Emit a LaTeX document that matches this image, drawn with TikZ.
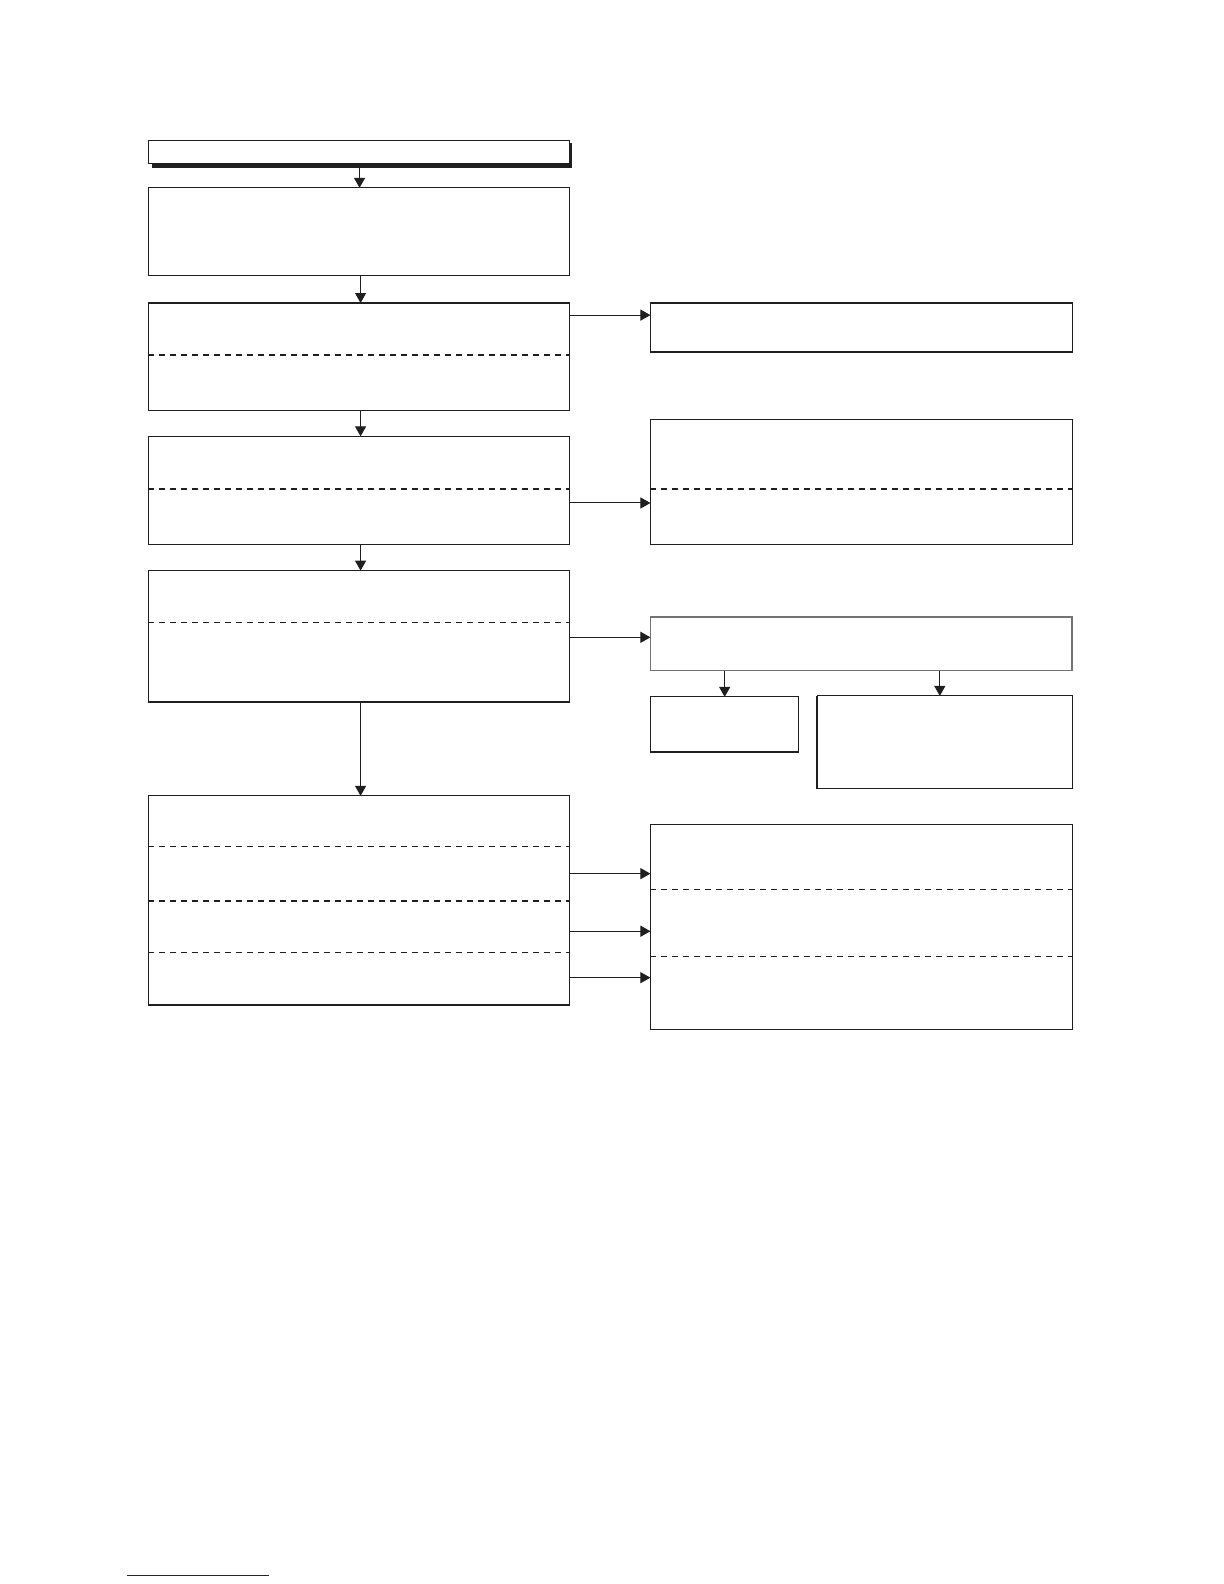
\documentclass[tikz,border=0pt]{standalone}
\usetikzlibrary{arrows.meta,fit}
\begin{document}
\begin{tikzpicture}[x=1.01bp,y=-1.01bp,
  box/.style={draw=black!88,line width=1.1bp,rectangle,inner sep=0pt,outer sep=0pt,fill=white},
  arr/.style={draw=black!88,line width=1bp,-{Triangle[length=10bp,width=11bp]}},
  thindash/.style={draw=black!88,line width=0.8bp,dash pattern=on 6bp off 5bp},
  thickdash/.style={draw=black!88,line width=1.8bp,dash pattern=on 6bp off 5bp}]
\useasboundingbox (0,0) rectangle (1211.88,1568.32);
% title box with shadow
\fill[black!88] (150,142) rectangle (566.5,166);
\node[box,fit={(147,139) (563.5,161.5)}] (t) {};
% left column
\node[box,fit={(147,186) (563.5,273)}] (b) {};
\node[box,fit={(147,300) (563.5,406)}] (c) {};
\node[box,fit={(147,432) (563.5,539)}] (d) {};
\node[box,fit={(147,565) (563.5,695)}] (e) {};
\node[box,fit={(147,788) (563.5,995)}] (f) {};
% right column
\node[box,fit={(644,300) (1061.5,348.5)}] (r1) {};
\node[box,fit={(644,415) (1061.5,539)}] (r2) {};
\node[box,draw=black!55,line width=1.5bp,fit={(644,611) (1061.5,664)}] (r3) {};
\node[box,fit={(644,690) (791,744.5)}] (r4) {};
\node[box,fit={(809,689) (1061.5,781)}] (r5) {};
\draw[draw=black!88,line width=1.6bp] (r5.north west) -- (r5.south west);
\node[box,fit={(644,816) (1061.5,1019)}] (r6) {};
% dividers
\draw[thickdash] (c.west |- 0,351.2) -- (c.east |- 0,351.2);
\draw[thickdash] (d.west |- 0,484) -- (d.east |- 0,484);
\draw[thickdash] (r2.west |- 0,484) -- (r2.east |- 0,484);
\draw[thindash] (e.west |- 0,616) -- (e.east |- 0,616);
\draw[thindash] (f.west |- 0,838) -- (f.east |- 0,838);
\draw[thickdash] (f.west |- 0,892) -- (f.east |- 0,892);
\draw[thindash] (f.west |- 0,943) -- (f.east |- 0,943);
\draw[thindash] (r6.west |- 0,881) -- (r6.east |- 0,881);
\draw[thindash] (r6.west |- 0,947) -- (r6.east |- 0,947);
% vertical connectors
\draw[arr] (t.south -| 356,0) -- (b.north -| 356,0);
\draw[arr] (b.south -| 357,0) -- (c.north -| 357,0);
\draw[arr] (c.south -| 357,0) -- (d.north -| 357,0);
\draw[arr] (d.south -| 357,0) -- (e.north -| 357,0);
\draw[arr] (e.south -| 357,0) -- (f.north -| 357,0);
\draw[arr] (r3.south -| 717.5,0) -- (r4.north -| 717.5,0);
\draw[arr] (r3.south -| 930.5,0) -- (r5.north -| 930.5,0);
% horizontal connectors
\draw[arr] (c.east |- 0,312) -- (r1.west |- 0,312);
\draw[arr] (d.east |- 0,498) -- (r2.west |- 0,498);
\draw[arr] (e.east |- 0,631) -- (r3.west |- 0,631);
\draw[arr] (f.east |- 0,865) -- (r6.west |- 0,865);
\draw[arr] (f.east |- 0,922) -- (r6.west |- 0,922);
\draw[arr] (f.east |- 0,968) -- (r6.west |- 0,968);
% blue rule at the bottom
\coordinate (bl) at (126,1560);
\coordinate (br) at (266,1560);
\draw[draw={rgb,255:red,20;green,20;blue,150},line width=1bp] (bl) -- (br);
\end{tikzpicture}
\end{document}
